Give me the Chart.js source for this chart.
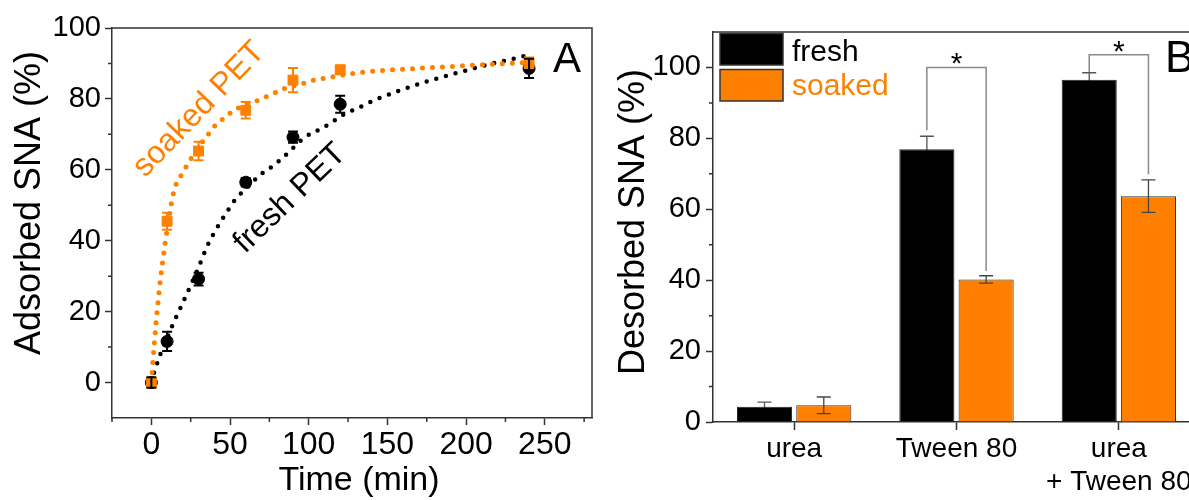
<!DOCTYPE html>
<html>
<head>
<meta charset="utf-8">
<script src="https://cdn.jsdelivr.net/npm/chart.js@4.4.1/dist/chart.umd.min.js"></script>
<style>
  html, body { margin: 0; padding: 0; background: #fff; overflow: hidden; }
  #wrap { position: relative; width: 1189px; height: 500px; overflow: hidden; background: #fff; }
  #chartA { position: absolute; left: 0; top: 0; }
  #chartB { position: absolute; left: 600px; top: 0; }
</style>
</head>
<body>
<div id="wrap">
  <canvas id="chartA" width="600" height="500"></canvas>
  <canvas id="chartB" width="610" height="500"></canvas>
</div>
<script>
// ---- Panel A: adsorbed SNA vs time ----
const timeA = [0, 10, 30, 60, 90, 120, 240];
const freshA = [0, 11.6, 29.2, 56.5, 69.2, 78.5, 88.6];
const freshErrA = [1.5, 2.7, 1.8, 1.2, 1.6, 2.4, 2.7];
const soakedA = [0, 45.5, 65.3, 76.8, 85.3, 88.2, 90.2];
const soakedErrA = [1.0, 2.4, 2.6, 2.3, 3.4, 1.2, 1.5];

// dotted fit curves
const fitTimeFresh = [0, 1.5, 3, 6, 10, 14, 20, 25, 30, 35, 39, 44, 48, 53, 62, 69, 77, 83, 98, 106, 113, 121, 133, 142, 156, 175, 194, 213, 227, 238];
const fitFresh = [0, 2.4, 4.5, 8.3, 12.5, 16.7, 22.5, 27.4, 32.5, 38, 41.5, 45.3, 48.1, 51.4, 55.5, 58.5, 61, 63.2, 69.3, 71.2, 72.9, 75.3, 77.8, 79.7, 82.1, 84.9, 87.3, 89.6, 91, 92.2];
const fitTimeSoaked = [0, 1, 2, 3, 4, 5, 6, 7.5, 9, 10.5, 12.5, 15, 19, 22, 25, 29, 35, 40, 46, 53, 60, 68, 77, 85, 97, 104, 111, 118, 130, 146, 177, 209, 230, 240];
const fitSoaked = [0, 6, 11.6, 17, 21.5, 26, 30, 35, 40, 44.5, 50, 55, 58.5, 60.8, 63, 65.8, 69.3, 72.2, 74.5, 76.9, 78.3, 79.6, 81.4, 83, 84.4, 85.4, 85.9, 86.5, 87.3, 88, 88.8, 89.6, 90.1, 90.3];

const xTicksA = [0, 50, 100, 150, 200, 250];
const xMinorA = [-25, 25, 75, 125, 175, 225, 275];
const yTicksA = [0, 20, 40, 60, 80, 100];
const yMinorA = [10, 30, 50, 70, 90];

// ---- Panel B: desorbed SNA ----
const categoriesB = ['urea', 'Tween 80', ['urea', '+ Tween 80']];
const freshB = [4.3, 76.9, 96.5];
const freshErrB = [1.3, 3.7, 2.0];
const soakedB = [4.7, 40.2, 63.7];
const soakedErrB = [2.35, 1.05, 4.6];
const yTicksB = [0, 20, 40, 60, 80, 100];
const yMinorB = [10, 30, 50, 70, 90];

// significance brackets: category, left leg start, top, right leg end
const bracketCat = [1, 2];
const bracketLeft = [82.3, 98.7];
const bracketTop = [100, 103.6];
const bracketRight = [42.6, 69.9];

const ORANGE = '#ff8000';
const AXIS = '#333333';
const FONT = "'Liberation Sans', Arial, Helvetica, sans-serif";
Chart.defaults.font.family = FONT;
Chart.defaults.color = '#000';

function pts(xs, ys) {
  return xs.map((x, i) => ({ x: x, y: ys[i] }));
}

//Vertical error bars; "behind" ones are drawn before the marks so the bar hides the lower half
function drawErrorBars(chart, behind) {
  const ctx = chart.ctx;
  const yScale = chart.scales.y;
  chart.data.datasets.forEach((ds, di) => {
    if (!ds.errors || !!ds.errorBehind !== behind) return;
    const meta = chart.getDatasetMeta(di);
    ctx.save();
    ctx.strokeStyle = ds.errorColor;
    ctx.lineWidth = ds.errorWidth;
    ctx.beginPath();
    meta.data.forEach((el, i) => {
      const raw = ds.data[i];
      const v = typeof raw === 'object' ? raw.y : raw;
      const x = el.x;
      const top = yScale.getPixelForValue(v + ds.errors[i]);
      const bot = yScale.getPixelForValue(v - ds.errors[i]);
      const c = ds.errorCap;
      ctx.moveTo(x, top); ctx.lineTo(x, bot);
      ctx.moveTo(x - c, top); ctx.lineTo(x + c, top);
      ctx.moveTo(x - c, bot); ctx.lineTo(x + c, bot);
    });
    ctx.stroke();
    ctx.restore();
  });
}

function drawMinorTicks(chart, xVals, yVals, len) {
  const { ctx, chartArea, scales } = chart;
  ctx.save();
  ctx.strokeStyle = AXIS;
  ctx.lineWidth = 1.5;
  ctx.beginPath();
  xVals.forEach(v => {
    const x = scales.x.getPixelForValue(v);
    ctx.moveTo(x, chartArea.bottom); ctx.lineTo(x, chartArea.bottom + len);
  });
  yVals.forEach(v => {
    const y = scales.y.getPixelForValue(v);
    ctx.moveTo(chartArea.left, y); ctx.lineTo(chartArea.left - len, y);
  });
  ctx.stroke();
  ctx.restore();
}

function drawText(ctx, str, x, y, size, color, align, deg) {
  ctx.save();
  ctx.translate(x, y);
  if (deg) ctx.rotate(deg * Math.PI / 180);
  ctx.font = size + 'px ' + FONT;
  ctx.fillStyle = color;
  ctx.textAlign = align || 'left';
  ctx.textBaseline = 'alphabetic';
  ctx.fillText(str, 0, 0);
  ctx.restore();
}

// ---------------- Chart A ----------------
const decorA = {
  id: 'decorA',
  afterDatasetsDraw(chart) {
    drawErrorBars(chart, false);
  },
  afterDraw(chart) {
    const { ctx, chartArea: a, scales } = chart;
    // top and right frame
    ctx.save();
    ctx.strokeStyle = AXIS;
    ctx.lineWidth = 1.5;
    ctx.beginPath();
    ctx.moveTo(a.left, a.top); ctx.lineTo(a.right, a.top); ctx.lineTo(a.right, a.bottom);
    ctx.stroke();
    ctx.restore();
    drawMinorTicks(chart, xMinorA, yMinorA, 4);

    // axis titles and panel letter
    drawText(ctx, 'Adsorbed SNA (%)', a.left - 72, (a.top + a.bottom) / 2 - 20, 36, '#000', 'center', -90);
    drawText(ctx, 'Time (min)', (a.left + a.right) / 2 + 7, 490, 34, '#000', 'center');
    drawText(ctx, 'A', a.right - 39, a.top + 44, 42, '#000', 'left');

    // curve labels, anchored in data units
    drawText(ctx, 'soaked PET', scales.x.getPixelForValue(-4), scales.y.getPixelForValue(57.6), 32, ORANGE, 'left', -46);
    drawText(ctx, 'fresh PET', scales.x.getPixelForValue(59.5), scales.y.getPixelForValue(36.2), 32, '#000', 'left', -44);
  }
};

const chartA = new Chart(document.getElementById('chartA'), {
  type: 'scatter',
  data: {
    datasets: [
      {
        label: 'soaked PET',
        data: pts(timeA, soakedA),
        errors: soakedErrA, errorColor: ORANGE, errorWidth: 2, errorCap: 5,
        pointStyle: 'rect', pointRadius: 7,
        pointBackgroundColor: ORANGE, pointBorderColor: ORANGE,
        showLine: false, order: 0
      },
      {
        label: 'fresh PET',
        data: pts(timeA, freshA),
        errors: freshErrA, errorColor: '#000', errorWidth: 2, errorCap: 5,
        pointStyle: 'circle', pointRadius: 6,
        pointBackgroundColor: '#000', pointBorderColor: '#000',
        showLine: false, order: 0
      },
      {
        label: 'soaked fit',
        data: pts(fitTimeSoaked, fitSoaked),
        showLine: true, pointRadius: 0,
        borderColor: ORANGE, borderWidth: 5,
        borderDash: [0, 10], borderCapStyle: 'round',
        cubicInterpolationMode: 'monotone', order: 1
      },
      {
        label: 'fresh fit',
        data: pts(fitTimeFresh, fitFresh),
        showLine: true, pointRadius: 0,
        borderColor: '#000', borderWidth: 4.5,
        borderDash: [0, 10], borderCapStyle: 'round',
        cubicInterpolationMode: 'monotone', order: 1
      }
    ]
  },
  options: {
    responsive: false,
    animation: false,
    events: [],
    layout: { padding: { top: 28, right: 3, left: 0, bottom: 0 } },
    plugins: { legend: { display: false }, tooltip: { enabled: false } },
    scales: {
      x: {
        type: 'linear', min: -25, max: 280,
        afterBuildTicks: s => { s.ticks = xTicksA.map(v => ({ value: v })); },
        afterFit: s => { s.height = 82; },
        ticks: { font: { size: 32 }, color: '#000', padding: 1, autoSkip: false, maxRotation: 0 },
        grid: { drawOnChartArea: false, tickLength: 7, tickWidth: 1.5, tickColor: AXIS },
        border: { color: AXIS, width: 1.5 }
      },
      y: {
        min: -10, max: 100,
        afterBuildTicks: s => { s.ticks = yTicksA.map(v => ({ value: v })); },
        afterFit: s => { s.width = 112; },
        ticks: { font: { size: 29 }, color: '#000', padding: 4, autoSkip: false },
        grid: { drawOnChartArea: false, tickLength: 7, tickWidth: 1.5, tickColor: AXIS },
        border: { color: AXIS, width: 1.5 }
      }
    }
  },
  plugins: [decorA]
});

// ---------------- Chart B ----------------
const decorB = {
  id: 'decorB',
  beforeDatasetsDraw(chart) {
    drawErrorBars(chart, true);
  },
  afterDatasetsDraw(chart) {
    drawErrorBars(chart, false);
  },
  afterDraw(chart) {
    const { ctx, chartArea: a, scales } = chart;
    ctx.save();
    ctx.strokeStyle = AXIS;
    ctx.lineWidth = 1.5;
    ctx.beginPath();
    ctx.moveTo(a.left, a.top); ctx.lineTo(a.right, a.top); ctx.lineTo(a.right, a.bottom);
    ctx.stroke();
    ctx.restore();
    drawMinorTicks(chart, [], yMinorB, 4);

    // significance brackets between fresh and soaked bars
    const m0 = chart.getDatasetMeta(0), m1 = chart.getDatasetMeta(1);
    bracketCat.forEach((c, i) => {
      const xl = m0.data[c].x, xr = m1.data[c].x;
      const yTop = scales.y.getPixelForValue(bracketTop[i]);
      ctx.save();
      ctx.strokeStyle = '#8a8a8a';
      ctx.lineWidth = 1.5;
      ctx.beginPath();
      ctx.moveTo(xl, scales.y.getPixelForValue(bracketLeft[i]));
      ctx.lineTo(xl, yTop);
      ctx.lineTo(xr, yTop);
      ctx.lineTo(xr, scales.y.getPixelForValue(bracketRight[i]));
      ctx.stroke();
      ctx.restore();
      drawText(ctx, '*', (xl + xr) / 2, yTop + 6, 30, '#000', 'center');
    });

    // legend
    chart.data.datasets.forEach((ds, i) => {
      const bx = a.left + 7, by = a.top + 1.5 + i * 36;
      ctx.save();
      ctx.fillStyle = ds.backgroundColor;
      ctx.fillRect(bx, by, 63, 31.5);
      ctx.strokeStyle = '#333';
      ctx.lineWidth = 1.5;
      ctx.strokeRect(bx, by, 63, 31.5);
      ctx.restore();
      drawText(ctx, ds.label, a.left + 79, a.top + 28.5 + i * 34.5, 30, ds.legendText, 'left');
    });

    drawText(ctx, 'Desorbed SNA (%)', a.left - 69, (a.top + a.bottom) / 2 - 5, 36, '#000', 'center', -90);
    drawText(ctx, 'B', a.left + 452, a.top + 40, 44, '#000', 'left');
  }
};

const chartB = new Chart(document.getElementById('chartB'), {
  type: 'bar',
  data: {
    labels: categoriesB,
    datasets: [
      {
        label: 'fresh', data: freshB,
        errors: freshErrB, errorColor: '#555', errorWidth: 1.3, errorCap: 7, errorBehind: true,
        backgroundColor: '#000', borderColor: '#222', borderWidth: 1,
        legendText: '#000',
        categoryPercentage: 0.73, barPercentage: 0.93
      },
      {
        label: 'soaked', data: soakedB,
        errors: soakedErrB, errorColor: '#444', errorWidth: 1.3, errorCap: 7,
        backgroundColor: ORANGE, borderColor: '#333', borderWidth: 1,
        legendText: ORANGE,
        categoryPercentage: 0.73, barPercentage: 0.93
      }
    ]
  },
  options: {
    responsive: false,
    animation: false,
    events: [],
    layout: { padding: { top: 32, right: 10, left: 0, bottom: 0 } },
    plugins: { legend: { display: false }, tooltip: { enabled: false } },
    scales: {
      x: {
        offset: true,
        afterFit: s => { s.height = 78; },
        ticks: { font: { size: 28, lineHeight: 1.2 }, color: '#000', padding: 2, autoSkip: false, maxRotation: 0 },
        grid: { offset: false, drawOnChartArea: false, tickLength: 8, tickWidth: 1.5, tickColor: AXIS },
        border: { color: AXIS, width: 1.5 }
      },
      y: {
        min: 0, max: 110,
        afterBuildTicks: s => { s.ticks = yTicksB.map(v => ({ value: v })); },
        afterFit: s => { s.width = 113; },
        ticks: { font: { size: 29 }, color: '#000', padding: 5, autoSkip: false },
        grid: { drawOnChartArea: false, tickLength: 7, tickWidth: 1.5, tickColor: AXIS },
        border: { color: AXIS, width: 1.5 }
      }
    }
  },
  plugins: [decorB]
});
</script>
</body>
</html>
